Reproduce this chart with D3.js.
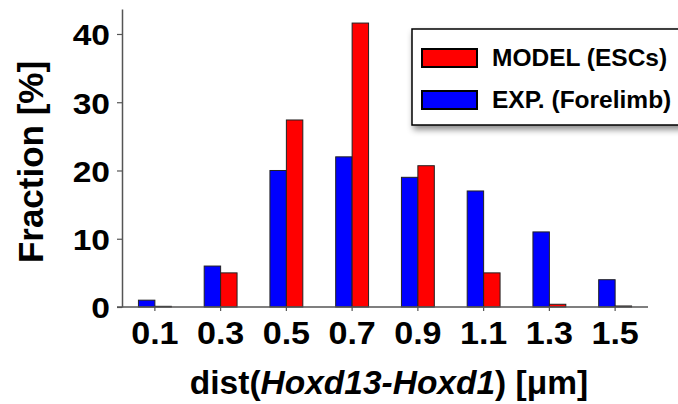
<!DOCTYPE html>
<html>
<head>
<meta charset="utf-8">
<script src="https://cdn.jsdelivr.net/npm/d3@7"></script>
<style>
  body { margin: 0; background: #fff; }
  svg { display: block; font-family: "Liberation Sans", Arial, Helvetica, sans-serif; font-weight: bold; }
</style>
</head>
<body>
<div id="chart"></div>
<script>
// bins (µm) and fractions (%)
const categories = ["0.1", "0.3", "0.5", "0.7", "0.9", "1.1", "1.3", "1.5"];
const expValues = [1, 6, 20, 22, 19, 17, 11, 4];
const modelValues = [0.1, 5, 27.4, 41.6, 20.7, 5, 0.4, 0.15];
const yTicks = [0, 10, 20, 30, 40];
const seriesNames = ["MODEL (ESCs)", "EXP. (Forelimb)"];
const seriesColors = ["#ff0000", "#0000ff"];

const width = 678, height = 404;
const padLeft = 122, padRight = 648, padTop = 9, padBottom = 307;

const svg = d3.select("#chart").append("svg")
    .attr("width", width).attr("height", height);

const defs = svg.append("defs");
defs.append("filter").attr("id", "shadow")
    .attr("x", "-20%").attr("y", "-20%").attr("width", "150%").attr("height", "160%")
    .append("feDropShadow")
    .attr("dx", 2).attr("dy", 4).attr("stdDeviation", 3)
    .attr("flood-color", "#000").attr("flood-opacity", 0.45);

const x = d3.scaleBand().domain(categories).range([padLeft, padRight]).padding(0);
const y = d3.scaleLinear().domain([0, 43.66]).range([padBottom, padTop]);
const barW = x.bandwidth() * 0.25;

// bars
const groups = svg.append("g").selectAll("g")
    .data(categories)
    .enter().append("g");

groups.append("rect")
    .attr("x", d => x(d) + x.bandwidth() / 2 - barW)
    .attr("y", (d, i) => y(expValues[i]))
    .attr("width", barW)
    .attr("height", (d, i) => y(0) - y(expValues[i]))
    .attr("fill", seriesColors[1])
    .attr("stroke", "#222").attr("stroke-width", 1);

groups.append("rect")
    .attr("x", d => x(d) + x.bandwidth() / 2)
    .attr("y", (d, i) => y(modelValues[i]))
    .attr("width", barW)
    .attr("height", (d, i) => y(0) - y(modelValues[i]))
    .attr("fill", seriesColors[0])
    .attr("stroke", "#222").attr("stroke-width", 1);

// y axis
const yAxis = svg.append("g")
    .attr("transform", `translate(${padLeft},0)`)
    .call(d3.axisLeft(y).tickValues(yTicks).tickSize(5).tickSizeOuter(0));
yAxis.selectAll("text")
    .attr("font-size", 30).attr("font-family", null).attr("fill", "#000")
    .attr("x", -10.7).attr("dy", "0.36em")
    .attr("transform", "scale(1.12,1)");
yAxis.selectAll("line").attr("stroke", "#555").attr("stroke-width", 1.2);
yAxis.select(".domain").attr("stroke", "#555").attr("stroke-width", 1.5);

// x axis
const xAxis = svg.append("g")
    .attr("transform", `translate(0,${padBottom})`)
    .call(d3.axisBottom(x).tickSize(4).tickSizeOuter(0));
xAxis.selectAll("text")
    .attr("font-size", 31).attr("font-family", null).attr("fill", "#000")
    .attr("y", 37).attr("dy", 0)
    .attr("transform", "scale(1.1,1)");
xAxis.selectAll("line").attr("stroke", "#555").attr("stroke-width", 1.2);
xAxis.select(".domain").attr("stroke", "#555").attr("stroke-width", 1.5)
    .attr("d", `M${padLeft - 5},0H${padRight}`);

// axis titles
svg.append("text")
    .attr("transform", "translate(43,162) rotate(-90)")
    .attr("text-anchor", "middle")
    .attr("font-size", 35)
    .text("Fraction [%]");

const xt = svg.append("text")
    .attr("x", 389).attr("y", 394)
    .attr("text-anchor", "middle")
    .attr("font-size", 33.5);
xt.append("tspan").text("dist(");
xt.append("tspan").attr("font-style", "italic").text("Hoxd13-Hoxd1");
xt.append("tspan").text(") [μm]");

// legend
const legend = svg.append("g");
legend.append("rect")
    .attr("x", 412).attr("y", 29)
    .attr("width", 290).attr("height", 96)
    .attr("fill", "#fff").attr("stroke", "#000").attr("stroke-width", 1.5)
    .attr("filter", "url(#shadow)");

const items = legend.selectAll("g.item")
    .data(seriesNames)
    .enter().append("g").attr("class", "item")
    .attr("transform", (d, i) => `translate(0,${i * 42})`);

items.append("rect")
    .attr("x", 422).attr("y", 49)
    .attr("width", 55).attr("height", 18)
    .attr("fill", (d, i) => seriesColors[i])
    .attr("stroke", "#000").attr("stroke-width", 2);

items.append("text")
    .attr("x", 492).attr("y", 65.5)
    .attr("font-size", 24.5)
    .text(d => d);
</script>
</body>
</html>
